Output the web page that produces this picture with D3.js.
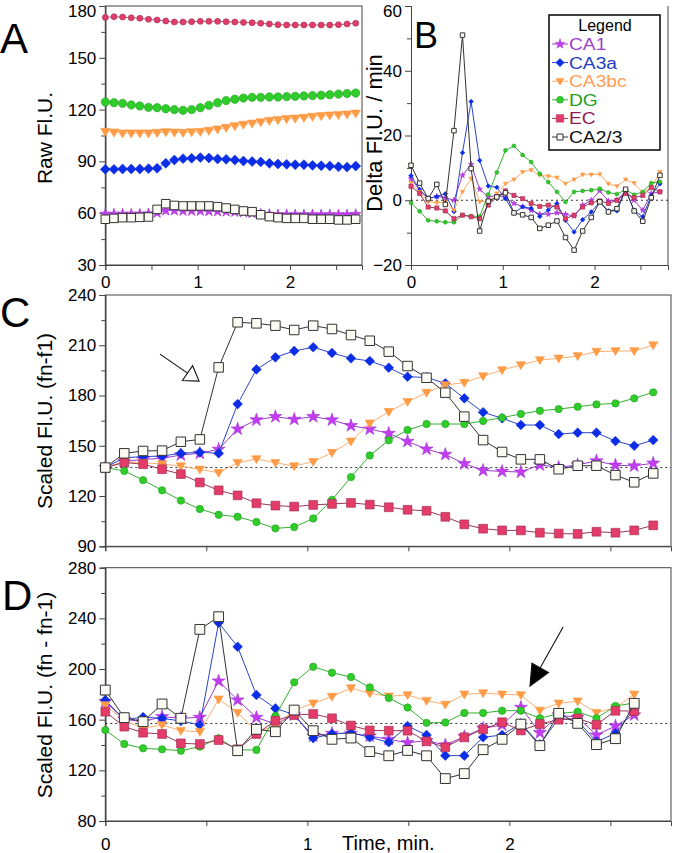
<!DOCTYPE html>
<html><head><meta charset="utf-8">
<script src="https://cdn.jsdelivr.net/npm/d3@7"></script>
<style>
body{margin:0;background:#fff}
svg{display:block}
text{font-family:"Liberation Sans",Arial,Helvetica,sans-serif;fill:#000}
</style>
</head><body>
<svg id="chart" width="675" height="853"></svg>
<script>
// ---------------- DATA ----------------
const seriesNames = ["CA1","CA3a","CA3bc","DG","EC","CA2/3"];
const timesMin = [0,0.094,0.187,0.281,0.374,0.468,0.561,0.655,0.748,0.842,0.935,1.029,1.122,1.216,1.309,1.403,1.496,1.590,1.683,1.777,1.870,1.964,2.057,2.151,2.244,2.338,2.431,2.525,2.618,2.712];

// Panel A: raw fluorescence
const rawCA1  = [59.6,59.6,59.6,59.6,59.6,59.8,60.2,61.5,61.5,61.3,61.3,61.3,61.1,61.0,60.9,60.7,60.4,60.0,59.6,59.4,59.2,59.2,59.2,59.2,59.2,59.2,59.2,59.2,59.2,59.4];
const rawCA3a = [85.4,85.4,85.6,85.6,85.6,85.8,86.0,88.9,90.8,91.6,91.8,92.2,92.0,91.4,91.2,90.8,90.2,89.9,89.7,88.9,88.5,88.3,88.1,88.1,87.7,87.5,87.3,86.9,86.7,87.3];
const rawCA3bc= [107.2,106.8,106.3,106.3,106.3,106.3,106.6,107.0,106.8,106.6,107.0,107.2,107.8,108.6,109.5,110.5,111.3,112.0,112.8,113.6,114.0,114.6,114.9,115.3,115.9,116.3,116.7,116.9,117.3,117.8];
const rawDG   = [124.4,124.0,123.6,122.7,122.1,121.3,121.1,120.5,120.0,119.6,120.0,121.1,122.5,124.0,125.2,126.0,126.7,127.1,127.1,127.3,127.3,127.5,127.7,127.9,128.1,128.3,128.6,129.0,129.3,129.6];
const rawEC   = [173.4,173.8,173.6,173.2,172.9,172.3,171.9,171.3,170.7,170.7,170.9,171.1,171.1,171.1,170.9,170.7,170.5,170.3,170.0,169.6,169.2,169.0,169.0,169.0,169.0,169.0,169.0,169.2,169.6,170.0];
const rawCA23 = [56.5,57.0,57.4,57.4,57.6,57.8,62.2,65.5,64.5,64.2,64.2,64.2,64.2,63.8,63.0,62.2,61.3,60.9,59.1,58.0,57.4,57.0,57.0,57.0,56.5,56.5,56.5,56.1,56.1,56.5];

// Panel B: delta fluorescence per minute
const deltaCA1  = [6.7,3.1,0.5,1.2,0.8,0.0,7.7,11.1,3.4,1.0,1.5,0.8,-1.0,-2.0,-3.1,-4.3,-4.3,-3.9,-4.3,-4.9,-1.5,0.0,2.9,-0.2,0.0,2.9,0.0,-3.1,2.1,2.6];
const deltaCA3a = [7.6,3.3,0.6,1.1,2.0,-3.5,14.7,30.5,12.3,4.4,4.0,0.5,-4.0,-2.0,-2.5,-5.0,-3.0,-1.0,-6.2,-9.8,-6.0,-3.6,-0.5,-3.3,-3.3,3.1,-3.1,-5.1,1.5,5.1];
const deltaCA3bc= [5.3,2.6,-0.5,-0.8,-0.5,-3.1,2.6,6.7,-0.5,-0.3,2.1,5.1,6.4,8.7,9.3,7.7,7.4,7.0,5.1,6.4,7.9,7.9,8.0,5.1,4.3,6.4,5.3,2.3,4.1,8.7];
const deltaDG   = [-0.8,-3.4,-6.2,-6.5,-6.8,-6.8,-4.6,-4.9,-5.0,1.8,8.6,15.4,16.8,14.0,11.8,8.2,5.6,2.6,-0.5,2.6,2.9,3.1,3.6,2.4,1.9,3.3,1.7,2.6,5.3,5.7];
const deltaEC   = [4.3,2.1,-2.1,-2.4,-3.3,-5.7,-4.6,-5.1,-5.7,-1.5,1.0,2.9,1.5,0.5,-1.0,-1.9,-1.5,-2.1,-5.7,-4.6,-2.1,-0.8,-0.2,-1.0,0.0,2.1,0.8,1.5,3.9,2.6];
const deltaCA23 = [10.8,5.3,0.5,4.9,-1.3,21.5,51,9.8,-9.5,-0.3,1.0,2.3,-3.9,-4.5,-5.3,-8.7,-7.7,-6.4,-11.5,-15.4,-9.5,-5.3,-0.5,-3.6,-2.6,3.4,-3.3,-6.5,0.8,7.7];

// Panel C: scaled (fn - f1)
const scF1CA1  = [137,140.5,141.9,142.5,144.5,145.5,147.9,160.0,165.4,167.4,165.8,167.4,165.4,162.0,160.0,157.4,152.6,148.0,144.8,139.3,135.3,134.7,134.3,138.6,137.1,138.6,141.0,138.4,138.0,139.6];
const scF1CA3a = [137,142.9,143.5,143.9,145.5,146.1,145.5,174.9,195.6,202.8,206.6,208.8,205.4,202.2,200.6,196.6,191.2,190.8,187.3,178.3,170.0,166.4,162.4,162.4,157.0,157.8,157.8,152.8,150.0,153.4];
const scF1CA3bc= [137,140.5,139.9,139.1,137.9,135.9,133.9,139.9,142.1,139.9,137.9,140.5,145.9,152.6,163.4,170.3,176.3,181.7,186.3,187.7,191.6,195.2,198.2,201.2,202.2,203.6,206.2,206.6,206.6,210.1];
const scF1DG   = [137,135.0,129.5,123.4,117.3,112.3,108.8,107.6,104.5,100.7,101.5,106.6,117.7,131.3,144.2,153.3,159.4,163.0,163.0,163.0,164.8,166.8,169.0,170.9,171.9,173.3,174.7,175.3,178.3,181.9];
const scF1EC   = [137.0,140.0,139.0,136.0,133.1,128.1,123.4,120.4,115.7,114.3,113.7,114.7,115.3,115.9,114.9,113.3,111.8,111.2,107.6,103.1,100.5,99.5,99.5,98.1,97.6,97.4,98.7,98.1,99.5,102.5];
const scF1CA23 = [137,145.5,146.9,147.1,152.4,153.8,196.8,223.7,223.1,221.7,219.1,221.7,219.7,216.1,212.7,206.2,197.6,190.6,181.7,167.4,153.4,146.3,141.9,141.9,136.0,138.1,138.1,132.5,128.2,133.5];

// Panel D: scaled (fn - fn-1)
const scDCA1  = [174.2,160.3,158.4,162.4,161.1,161.8,190.5,175.5,161.8,156.6,163.7,147.1,149.2,149.2,147.1,144.5,141.8,143.4,140.0,146.6,153.2,155.8,169.7,149.7,163.7,161.8,147.9,155.0,163.7];
const scDCA3a = [175.5,160.0,162.0,161.0,159.0,155.8,236.6,217.6,179.5,168.9,164.0,145.5,148.7,149.7,146.1,142.2,155.0,147.9,131.6,131.6,146.1,147.9,157.1,140.5,161.1,159.2,142.6,149.2,168.2];
const scDCA3bc= [171.6,159.2,153.2,155.8,151.3,150.5,176.1,165.5,150.5,155.0,167.6,172.9,178.2,185.0,180.8,178.5,179.5,175.0,172.0,180.0,181.0,180.0,179.5,167.3,172.9,174.6,165.5,169.5,180.0];
const scDDG   = [151.8,140.8,137.4,136.6,135.5,138.7,145.3,136.1,136.1,162.9,189.5,201.8,197.1,193.7,185.5,177.1,169.6,157.5,157.8,165.3,165.3,167.1,167.1,161.1,164.8,166.3,161.1,170.8,173.2];
const scDEC   = [166.3,154.5,149.7,148.7,141.3,140.8,143.9,136.6,148.7,159.2,163.7,164.5,161.1,155.4,151.5,151.3,151.3,142.9,138.2,146.1,152.5,158.0,151.5,156.6,160.0,161.0,156.0,167.0,166.8];
const scDCA23 = [183.4,161.6,158.4,172.4,161.1,231.3,241.3,135.5,152.4,150.5,167.6,151.3,144.5,145.5,134.8,131.5,135.7,131.5,113.5,117.4,136.3,144.5,156.5,139.5,165.0,157.1,140.3,145.0,172.9];

// Tick values / labels
const ticksA_y = [30,60,90,120,150,180], minorA_y = [45,75,105,135,165];
const ticksB_y = [-20,0,20,40,60], minorB_y = [-10,10,30,50];
const ticksC_y = [90,120,150,180,210,240], minorC_y = [105,135,165,195,225];
const ticksD_y = [80,120,160,200,240,280], minorD_y = [100,140,180,220,260];
const ticksTime = [0,0.5,1,1.5,2,2.5];
const timeLabels = [0,1,2];
const baselineC = [137];
const baselineD = [157];

// ---------------- STYLES ----------------
const styles = {
  "CA1":  {shape:"star",    fill:"#c43cf2", stroke:"#a030d0", line:"#9a3dcc", text:"#9b3fd0"},
  "CA3a": {shape:"diamond", fill:"#0c2de6", stroke:"#0c2de6", line:"#2a45c8", text:"#1f3ec4"},
  "CA3bc":{shape:"tri",     fill:"#ff9a45", stroke:"#ff9a45", line:"#ffae70", text:"#ff9d55"},
  "DG":   {shape:"circle",  fill:"#2fcc2a", stroke:"#22a020", line:"#35b030", text:"#22a022"},
  "EC":   {shape:"square",  fill:"#e43c68", stroke:"#9a2a50", line:"#9c3558", text:"#8c2050"},
  "CA2/3":{shape:"square",  fill:"#fbfbf4", stroke:"#333333", line:"#333333", text:"#111111"}
};

function shapePath(shape, s){
  const h = s/2;
  switch(shape){
    case "square": return `M${-h},${-h}H${h}V${h}H${-h}Z`;
    case "diamond": return `M0,${-h*1.1}L${h*1.1},0L0,${h*1.1}L${-h*1.1},0Z`;
    case "tri": return `M${-h*1.05},${-h*0.75}L${h*1.05},${-h*0.75}L0,${h*1.05}Z`;
    case "circle": return d3.symbol(d3.symbolCircle, Math.PI*h*h*0.85)();
    case "star": return d3.symbol(d3.symbolStar, s*s*0.55)();
  }
}

const svg = d3.select("#chart");

function stretch(sel, f){
  sel.each(function(){
    const L = this.getComputedTextLength();
    d3.select(this).attr("textLength", L*f).attr("lengthAdjust","spacingAndGlyphs");
  });
}

function drawPanel(cfg){
  const g = svg.append("g");
  const x = d3.scaleLinear().domain(cfg.xdom).range([cfg.x0, cfg.x1]);
  const y = d3.scaleLinear().domain(cfg.ydom).range([cfg.y1, cfg.y0]);

  if (cfg.frame){
    g.append("rect").attr("x",cfg.x0).attr("y",cfg.y0)
      .attr("width",cfg.x1-cfg.x0).attr("height",cfg.y1-cfg.y0)
      .attr("fill","none").attr("stroke","#444").attr("stroke-width",1);
  } else {
    g.append("line").attr("x1",cfg.x1).attr("x2",cfg.x1).attr("y1",cfg.y0).attr("y2",cfg.y1)
      .attr("stroke","#444");
  }

  const ya = g.append("g").attr("transform",`translate(${cfg.x0},0)`)
    .call(d3.axisLeft(y).tickValues(cfg.yticks).tickSize(6).tickPadding(3));
  ya.selectAll(".tick text").attr("dy", d => (y(d) < 14 ? "0.6em" : "0.32em"));
  g.append("g").attr("transform",`translate(${cfg.x0},0)`)
    .call(d3.axisLeft(y).tickValues(cfg.yminor).tickSize(4).tickFormat(""));
  g.append("g").attr("transform",`translate(0,${cfg.y1})`)
    .call(d3.axisBottom(x).tickValues(ticksTime).tickSize(5).tickPadding(cfg.xpad)
      .tickFormat(d => (cfg.xlabels && timeLabels.includes(d)) ? d3.format("d")(d) : ""));
  g.selectAll(".domain").attr("stroke","#444");
  g.selectAll(".tick line").attr("stroke","#444");
  g.selectAll(".tick text").attr("font-family","'DejaVu Sans',sans-serif")
    .attr("font-size",17).attr("fill","#000");

  if (cfg.baseline){
    g.selectAll(".base").data(cfg.baseline).join("line")
      .attr("x1",cfg.x0).attr("x2",cfg.x1).attr("y1",d=>y(d)).attr("y2",d=>y(d))
      .attr("stroke","#333").attr("stroke-width",1).attr("stroke-dasharray","2,3");
  }

  const line = d3.line().x(d=>x(d[0])).y(d=>y(d[1]));
  cfg.series.forEach(([name, vals]) => {
    const st = styles[name];
    const pts = vals.map((v,i)=>[timesMin[i], v]);
    g.append("path").datum(pts).attr("d",line).attr("fill","none")
      .attr("stroke",st.line).attr("stroke-width",cfg.lw);
    const shape = (cfg.ecCircle && name==="EC") ? "circle" : st.shape;
    const size = (cfg.msize[name] || cfg.msize.def);
    g.selectAll(null).data(pts).join("path")
      .attr("transform",d=>`translate(${x(d[0])},${y(d[1])})`)
      .attr("d", shapePath(shape, size))
      .attr("fill", st.fill)
      .attr("stroke", st.stroke)
      .attr("stroke-width", name==="CA2/3" ? 1 : 0.6);
  });

  g.append("text").attr("transform",`translate(${cfg.titleX},${cfg.titleY}) rotate(-90)`)
    .attr("text-anchor","middle").attr("font-size",cfg.titleSize).text(cfg.title);
  g.append("text").attr("x",cfg.letterX).attr("y",cfg.letterY)
    .attr("font-size",cfg.letterSize).text(cfg.letter);
  return {g,x,y};
}

const seriesOf = (a,b,c,d,e,f)=>[["CA1",a],["CA3a",b],["CA3bc",c],["DG",d],["EC",e],["CA2/3",f]];

drawPanel({x0:105.3,x1:362,y0:6,y1:265,xdom:[0,2.78],ydom:[30,180],frame:true,
  yticks:ticksA_y,yminor:minorA_y,xlabels:true,xpad:6,lw:0.8,ecCircle:true,
  msize:{def:9,"EC":6.5,"CA1":8,"CA2/3":8.5},
  series:seriesOf(rawCA1,rawCA3a,rawCA3bc,rawDG,rawEC,rawCA23),
  title:"Raw Fl.U.",titleX:52,titleY:138,titleSize:21,letter:"A",letterX:0,letterY:53,letterSize:42});

drawPanel({x0:411,x1:668,y0:6,y1:265,xdom:[0,2.80],ydom:[-20,60],frame:false,
  yticks:ticksB_y,yminor:minorB_y,xlabels:true,xpad:6,lw:1,baseline:[0],
  msize:{def:4.2,"CA2/3":4.5},
  series:seriesOf(deltaCA1,deltaCA3a,deltaCA3bc,deltaDG,deltaEC,deltaCA23),
  title:"Delta Fl.U. / min",titleX:382,titleY:133,titleSize:22,letter:"B",letterX:414,letterY:48,letterSize:36});

drawPanel({x0:105.3,x1:671,y0:295,y1:546.3,xdom:[0,2.80],ydom:[90,240],frame:true,
  yticks:ticksC_y,yminor:minorC_y,xlabels:false,xpad:6,lw:1,baseline:baselineC,
  msize:{def:8.8,"CA2/3":9.5,"DG":8,"CA1":9.8},
  series:seriesOf(scF1CA1,scF1CA3a,scF1CA3bc,scF1DG,scF1EC,scF1CA23),
  title:"Scaled Fl.U. (fn-f1)",titleX:52,titleY:421,titleSize:21,letter:"C",letterX:0,letterY:327,letterSize:42});

drawPanel({x0:105.3,x1:671,y0:567.7,y1:821,xdom:[0,2.80],ydom:[80,280],frame:true,
  yticks:ticksD_y,yminor:minorD_y,xlabels:true,xpad:12,lw:1,baseline:baselineD,
  msize:{def:8.8,"CA2/3":9.8,"DG":8,"CA1":9.8},
  series:seriesOf(scDCA1,scDCA3a,scDCA3bc,scDDG,scDEC,scDCA23),
  title:"Scaled Fl.U. (fn - fn-1)",titleX:52,titleY:695,titleSize:21,letter:"D",letterX:2,letterY:610,letterSize:42});

svg.append("text").attr("x",342).attr("y",850).attr("font-size",20).text("Time, min.");

// Annotation arrows (in data units of panels C and D)
const arrowC = {tail:[0.271,204.7], tip:[0.464,188.6]};
const arrowD = {tail:[2.266,233.2], tip:[2.102,186.5]};
function arrow(xs, ys, a, len, hw, filled){
  const t = [xs(a.tail[0]), ys(a.tail[1])], p = [xs(a.tip[0]), ys(a.tip[1])];
  const dx = p[0]-t[0], dy = p[1]-t[1], L = Math.hypot(dx,dy), ux = dx/L, uy = dy/L;
  const b = [p[0]-ux*len, p[1]-uy*len];
  svg.append("line").attr("x1",t[0]).attr("y1",t[1]).attr("x2",b[0]).attr("y2",b[1])
    .attr("stroke","#111").attr("stroke-width",1.1);
  svg.append("path").attr("d",`M${p[0]},${p[1]}L${b[0]-uy*hw},${b[1]+ux*hw}L${b[0]+uy*hw},${b[1]-ux*hw}Z`)
    .attr("fill",filled?"#000":"#fff").attr("stroke","#111").attr("stroke-width",1.1);
}
{
  const xC = d3.scaleLinear().domain([0,2.80]).range([105.3,671]);
  const yC = d3.scaleLinear().domain([90,240]).range([546.3,295]);
  arrow(xC,yC,arrowC,14,9,false);
  const yD = d3.scaleLinear().domain([80,280]).range([821,567.7]);
  arrow(xC,yD,arrowD,21,9.5,true);
}

// Legend
const lg = svg.append("g");
lg.append("rect").attr("x",549).attr("y",15).attr("width",111).attr("height",135)
  .attr("fill","#fff").attr("stroke","#000").attr("stroke-width",1.5);
lg.append("text").attr("x",605).attr("y",31).attr("text-anchor","middle")
  .attr("font-size",16).text("Legend");
seriesNames.forEach((n,i)=>{
  const st = styles[n];
  const yy = 50 + i*18.6;
  lg.append("line").attr("x1",552).attr("x2",568).attr("y1",yy-6).attr("y2",yy-6)
    .attr("stroke",st.line).attr("stroke-width",1);
  lg.append("path").attr("transform",`translate(560,${yy-6})`)
    .attr("d",shapePath(st.shape, n==="CA2/3"?6:7.5)).attr("fill",st.fill)
    .attr("stroke",st.stroke).attr("stroke-width",n==="CA2/3"?1:0.5);
  const t = lg.append("text").attr("x",569).attr("y",yy).attr("font-size",16)
    .attr("fill",st.text).style("fill",st.text).text(n);
  stretch(t,1.2);
});
</script>
</body></html>
